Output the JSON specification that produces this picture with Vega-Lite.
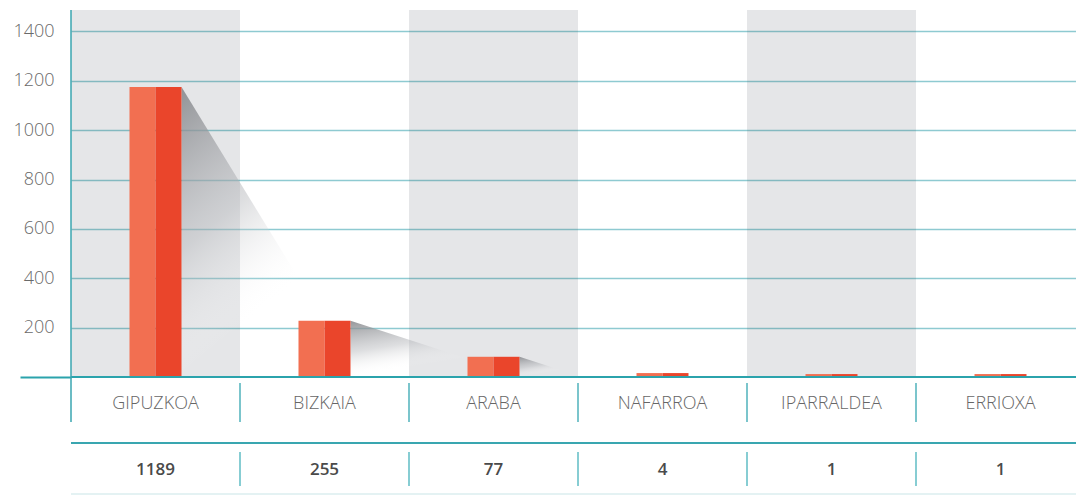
{
  "$schema": "https://vega.github.io/schema/vega-lite/v6.json",
  "width": 1005,
  "height": 485,
  "autosize": {"type": "none"},
  "padding": {"left": 71, "top": 10, "right": 0, "bottom": 0},
  "background": "white",
  "config": {
    "view": {"stroke": null},
    "scale": {"bandPaddingInner": 0, "bandPaddingOuter": 0, "barBandPaddingInner": 0, "rectBandPaddingInner": 0}
  },
  "data": {
    "values": [
      {"region": "GIPUZKOA", "value": 1189, "height": 1175},
      {"region": "BIZKAIA", "value": 255, "height": 228},
      {"region": "ARABA", "value": 77, "height": 82},
      {"region": "NAFARROA", "value": 4, "height": 16},
      {"region": "IPARRALDEA", "value": 1, "height": 12},
      {"region": "ERRIOXA", "value": 1, "height": 12}
    ]
  },
  "resolve": {"scale": {"x": "independent"}},
  "layer": [
    {
      "transform": [{"filter": {"field": "region", "oneOf": ["GIPUZKOA", "ARABA", "IPARRALDEA"]}}],
      "mark": {"type": "rect", "fill": "#525866", "opacity": 0.15},
      "encoding": {
        "x": {"field": "region", "type": "nominal", "axis": null,
              "scale": {"type": "band", "domain": ["GIPUZKOA", "BIZKAIA", "ARABA", "NAFARROA", "IPARRALDEA", "ERRIOXA"], "range": [0, 1014]}},
        "y": {"datum": 1487, "type": "quantitative",
              "scale": {"domain": [-478, 1487], "nice": false, "zero": false},
              "axis": {
                "title": null,
                "values": [0, 200, 400, 600, 800, 1000, 1200, 1400],
                "format": "d",
                "labelExpr": "datum.value === 0 ? '' : datum.label",
                "domain": false,
                "grid": true,
                "gridColor": {"condition": {"test": "datum.value === 0", "value": "transparent"}, "value": "#8ECAD1"},
                "gridWidth": 1.5,
                "ticks": true,
                "tickSize": 51,
                "tickWidth": 2,
                "tickColor": {"condition": {"test": "datum.value === 0", "value": "#2BA3AC"}, "value": "transparent"},
                "labelPadding": -34,
                "labelFont": "Open Sans",
                "labelFontWeight": 300,
                "labelFontSize": 18,
                "labelColor": "#6a6a6a"
              }},
        "y2": {"datum": 0}
      }
    },
    {
      "transform": [
        {"window": [{"op": "row_number", "as": "idx"}]},
        {"filter": "datum.height > 50"},
        {"calculate": "0", "as": "tip"},
        {"fold": ["height", "tip"], "as": ["k", "h"]},
        {"calculate": "datum.idx - 0.346 + (datum.k === 'tip' ? min(1.05, datum.height * 0.0045) : 0)", "as": "sx"}
      ],
      "mark": {
        "type": "area",
        "color": {
          "gradient": "linear", "x1": 0, "y1": 0, "x2": 0.5, "y2": 1,
          "stops": [
            {"offset": 0, "color": "rgba(130,132,136,0.85)"},
            {"offset": 0.45, "color": "rgba(180,182,186,0.45)"},
            {"offset": 0.8, "color": "rgba(255,255,255,0)"}
          ]
        }
      },
      "encoding": {
        "x": {"field": "sx", "type": "quantitative", "axis": null,
              "scale": {"domain": [0, 6], "range": [0, 1014], "nice": false, "zero": false}},
        "y": {"field": "h", "type": "quantitative", "stack": null, "title": null},
        "y2": {"datum": 0},
        "detail": {"field": "region"}
      }
    },
    {
      "mark": {"type": "bar", "width": 26, "xOffset": -13, "color": "#F26F51"},
      "encoding": {
        "x": {"field": "region", "type": "nominal", "axis": null,
              "scale": {"type": "band", "domain": ["GIPUZKOA", "BIZKAIA", "ARABA", "NAFARROA", "IPARRALDEA", "ERRIOXA"], "range": [0, 1014]}},
        "y": {"field": "height", "type": "quantitative", "title": null}
      }
    },
    {
      "mark": {"type": "bar", "width": 26, "xOffset": 13, "color": "#EA452B"},
      "encoding": {
        "x": {"field": "region", "type": "nominal", "axis": null,
              "scale": {"type": "band", "domain": ["GIPUZKOA", "BIZKAIA", "ARABA", "NAFARROA", "IPARRALDEA", "ERRIOXA"], "range": [0, 1014]}},
        "y": {"field": "height", "type": "quantitative", "title": null}
      }
    },
    {
      "mark": {"type": "rule", "color": "#2BA3AC", "strokeWidth": 2},
      "encoding": {"y": {"datum": 0, "type": "quantitative"}}
    },
    {
      "transform": [{"filter": "datum.region === 'GIPUZKOA'"}],
      "mark": {"type": "rule", "color": "#3AA6B0", "strokeWidth": 1.5},
      "encoding": {
        "x": {"field": "region", "type": "nominal", "axis": null, "bandPosition": 0,
              "scale": {"type": "band", "domain": ["GIPUZKOA", "BIZKAIA", "ARABA", "NAFARROA", "IPARRALDEA", "ERRIOXA"], "range": [0, 1014]}},
        "y": {"datum": 1487, "type": "quantitative"},
        "y2": {"datum": -182}
      }
    },
    {
      "transform": [{"filter": "datum.region !== 'GIPUZKOA'"}],
      "mark": {"type": "rule", "color": "#4FB2BB", "strokeWidth": 1.5},
      "encoding": {
        "x": {"field": "region", "type": "nominal", "axis": null, "bandPosition": 0,
              "scale": {"type": "band", "domain": ["GIPUZKOA", "BIZKAIA", "ARABA", "NAFARROA", "IPARRALDEA", "ERRIOXA"], "range": [0, 1014]}},
        "y": {"datum": -24, "type": "quantitative"},
        "y2": {"datum": -182}
      }
    },
    {
      "mark": {"type": "rule", "color": "#3AA6B0", "strokeWidth": 1.5},
      "encoding": {"y": {"datum": -267, "type": "quantitative"}}
    },
    {
      "transform": [{"filter": "datum.region !== 'GIPUZKOA'"}],
      "mark": {"type": "rule", "color": "#5FBCC4", "strokeWidth": 1.5},
      "encoding": {
        "x": {"field": "region", "type": "nominal", "axis": null, "bandPosition": 0,
              "scale": {"type": "band", "domain": ["GIPUZKOA", "BIZKAIA", "ARABA", "NAFARROA", "IPARRALDEA", "ERRIOXA"], "range": [0, 1014]}},
        "y": {"datum": -304, "type": "quantitative"},
        "y2": {"datum": -442}
      }
    },
    {
      "mark": {"type": "rule", "color": "#E4F2F3", "strokeWidth": 2},
      "encoding": {"y": {"datum": -474, "type": "quantitative"}}
    },
    {
      "mark": {"type": "text", "font": "Open Sans", "fontWeight": 300, "fontSize": 18, "color": "#666666", "baseline": "middle", "align": "center"},
      "encoding": {
        "x": {"field": "region", "type": "nominal", "axis": null,
              "scale": {"type": "band", "domain": ["GIPUZKOA", "BIZKAIA", "ARABA", "NAFARROA", "IPARRALDEA", "ERRIOXA"], "range": [0, 1014]}},
        "y": {"datum": -109, "type": "quantitative"},
        "text": {"field": "region"}
      }
    },
    {
      "mark": {"type": "text", "font": "Open Sans", "fontWeight": 600, "fontSize": 17, "color": "#4a4a4a", "baseline": "middle", "align": "center"},
      "encoding": {
        "x": {"field": "region", "type": "nominal", "axis": null,
              "scale": {"type": "band", "domain": ["GIPUZKOA", "BIZKAIA", "ARABA", "NAFARROA", "IPARRALDEA", "ERRIOXA"], "range": [0, 1014]}},
        "y": {"datum": -377, "type": "quantitative"},
        "text": {"field": "value", "type": "quantitative", "format": "d"}
      }
    }
  ]
}
